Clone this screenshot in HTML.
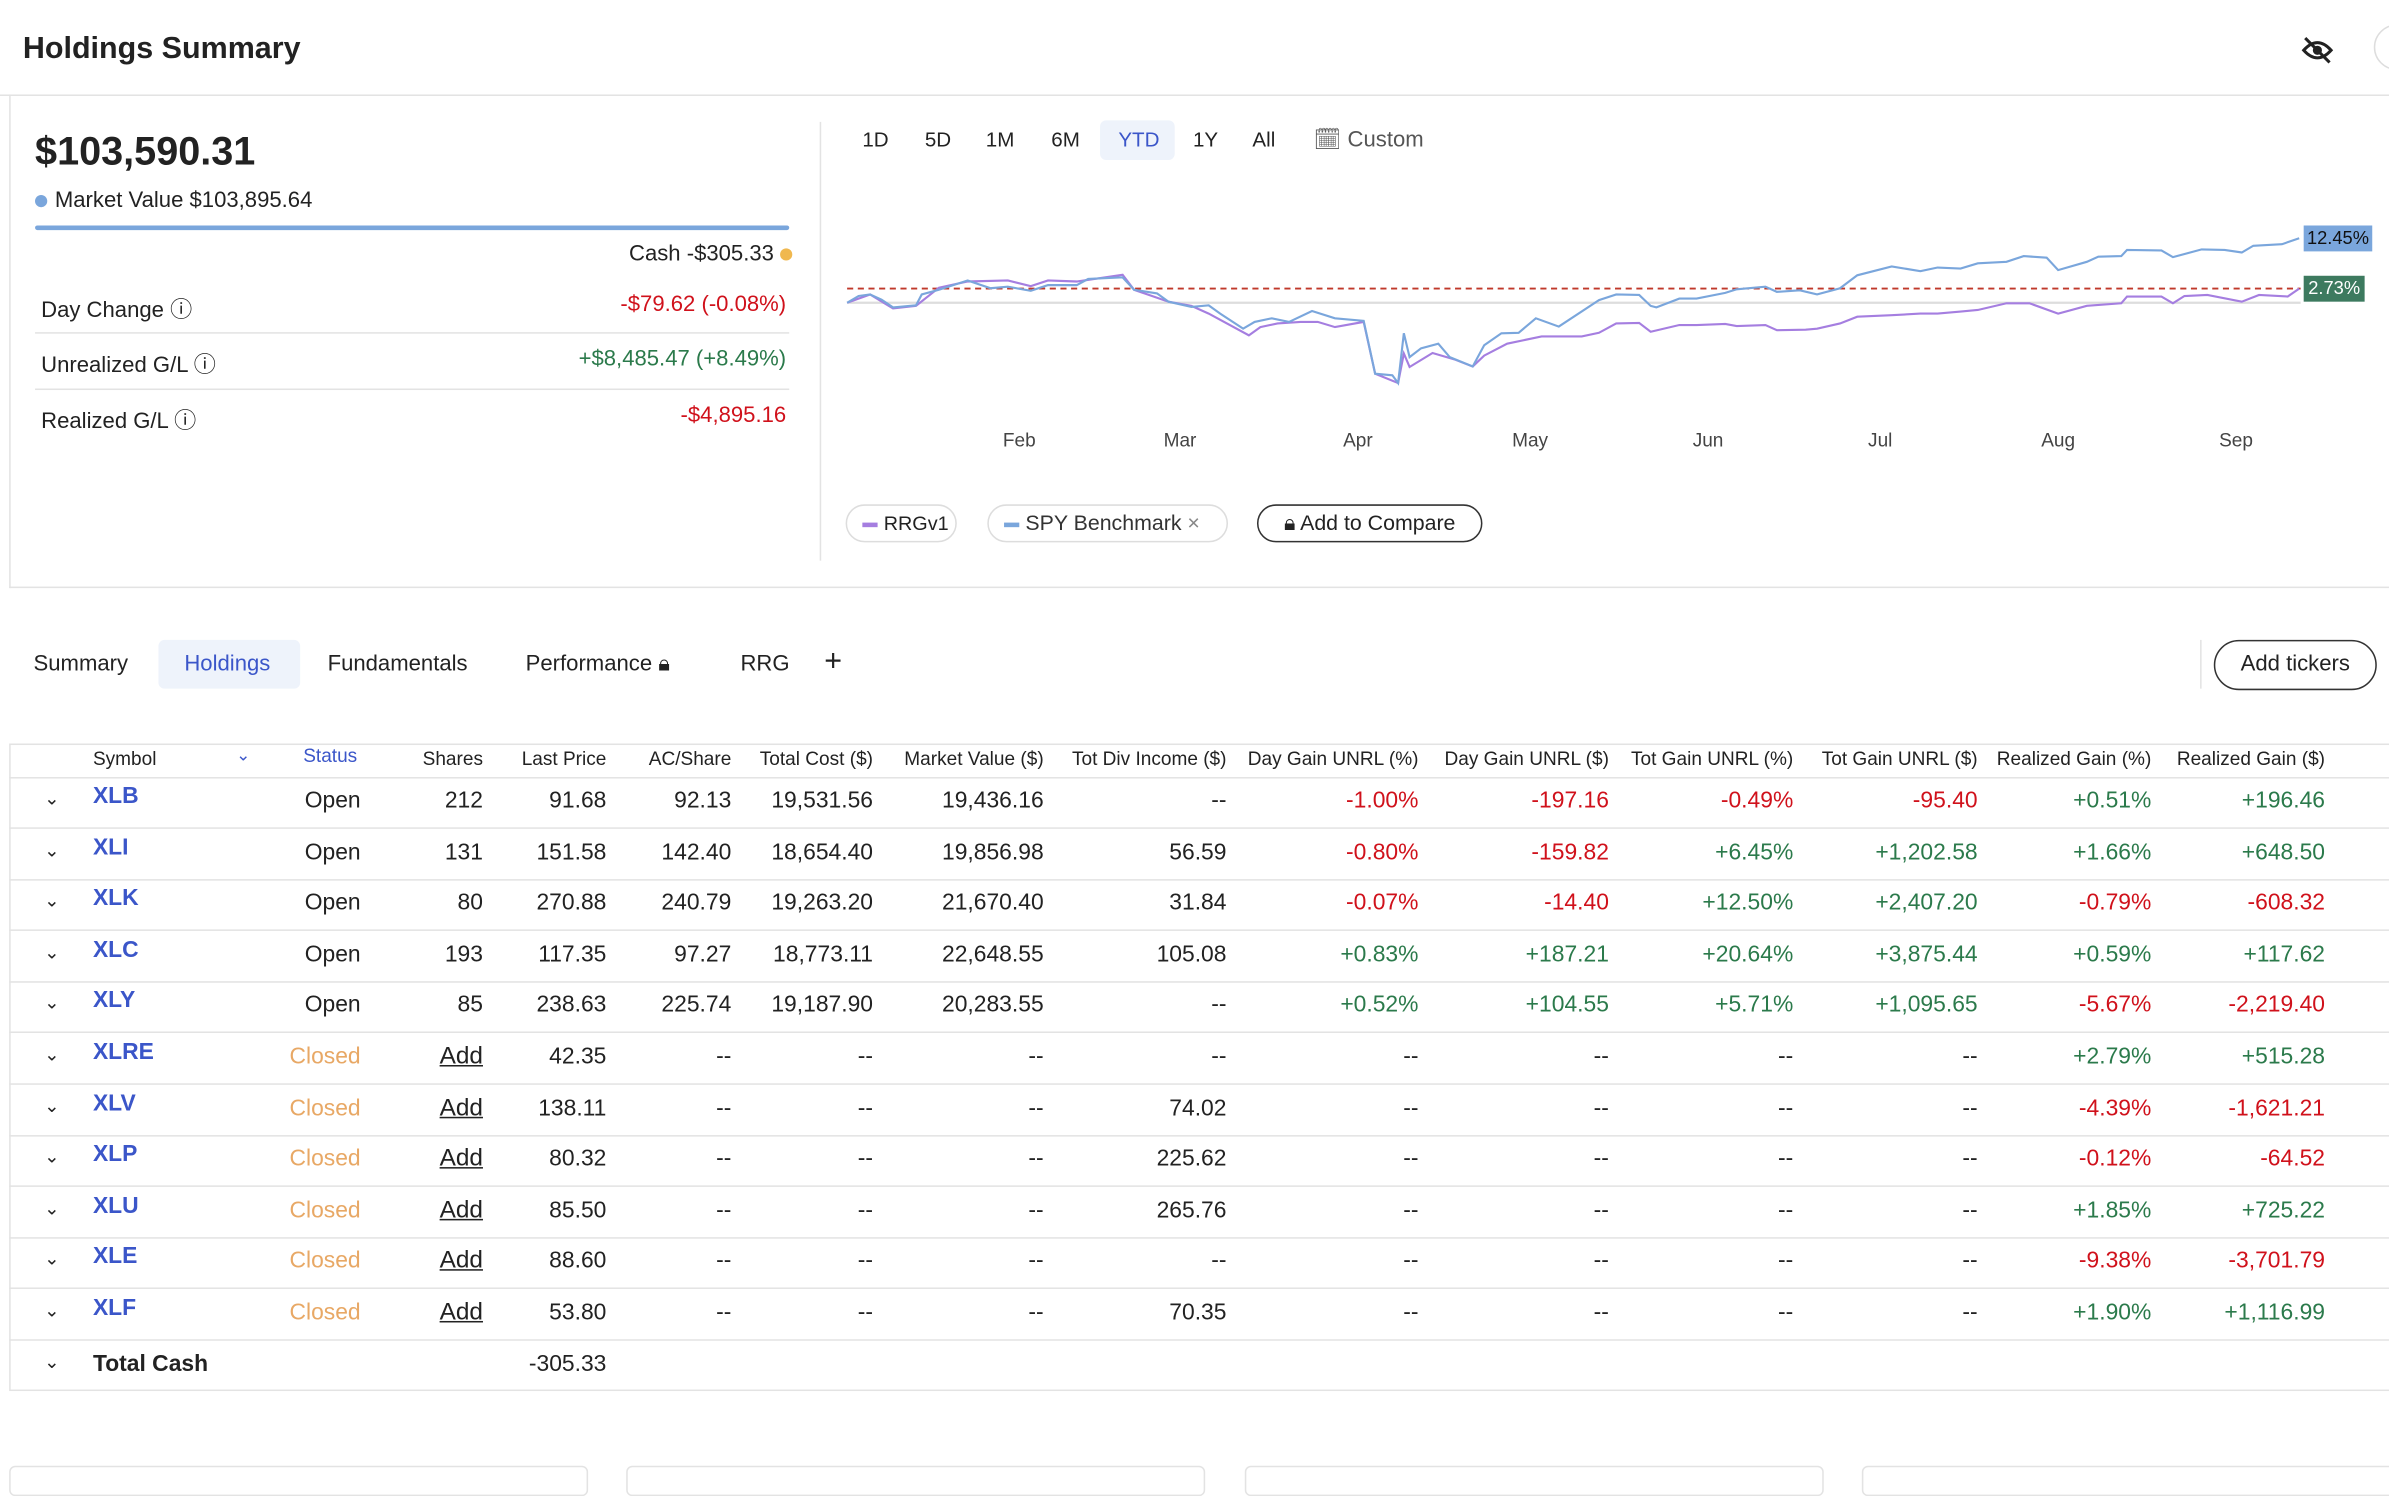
<!DOCTYPE html>
<html><head><meta charset="utf-8"><style>
*{box-sizing:border-box;margin:0;padding:0}
body{width:2389px;height:1480px;overflow:hidden;background:#fff;font-family:"Liberation Sans",Arial,sans-serif;color:#222}
#root{position:absolute;left:0;top:0;width:1568px;height:971px;transform:scale(1.5236);transform-origin:0 0}
.a{position:absolute;white-space:nowrap}
.r{text-align:right}
.red{color:#d0111b}.grn{color:#2b7a4b}
.hd{font-size:12.5px;color:#222;top:491px}
.cell{font-size:15px}
.sym{color:#3b56c9;font-weight:bold;font-size:15px}
.cls{color:#e8a865;font-size:15px}
.add{text-decoration:underline;font-size:16px}
.sep{position:absolute;left:6px;width:1562px;height:1px;background:#e3e3e3}
.btn{font-size:13.5px;top:84px}
</style></head><body><div id="root">

<div class="a" style="left:15px;top:21px;font-size:20px;font-weight:bold">Holdings Summary</div>
<svg class="a" style="left:1510px;top:23px" width="22" height="20" viewBox="0 0 22 20"><path d="M2 10 Q11 0 20 10 Q11 20 2 10Z" fill="none" stroke="#222" stroke-width="2"/><circle cx="11" cy="10" r="3" fill="#222"/><line x1="3" y1="2" x2="19" y2="18" stroke="#222" stroke-width="2"/></svg>
<div class="a" style="left:1558px;top:16px;width:30px;height:30px;border:1px solid #ddd;border-radius:50%"></div>
<div class="a" style="left:0;top:62px;width:1568px;height:1px;background:#e3e3e3"></div>
<div class="a" style="left:6px;top:62px;width:1600px;height:324px;border:1px solid #e3e3e3;border-top:none"></div>
<div class="a" style="left:538px;top:80px;width:1px;height:288px;background:#e3e3e3"></div>

<div class="a" style="left:23px;top:84px;font-size:26px;font-weight:bold">$103,590.31</div>
<div class="a" style="left:23px;top:124px;font-size:14.5px"><span style="display:inline-block;width:8px;height:8px;border-radius:50%;background:#7aa6dc;margin-right:5px"></span>Market Value <b style="font-weight:500">$103,895.64</b></div>
<div class="a" style="left:23px;top:148px;width:495px;height:3px;background:#7aa6dc;border-radius:2px"></div>
<div class="a r" style="left:300px;width:220px;top:159px;font-size:14.5px">Cash -$305.33 <span style="display:inline-block;width:8px;height:8px;border-radius:50%;background:#f0b84f"></span></div>
<div class="a" style="left:27px;top:192px;font-size:14.5px">Day Change ⓘ</div>
<div class="a r red" style="left:300px;width:216px;top:192px;font-size:14.5px">-$79.62 (-0.08%)</div>
<div class="a" style="left:23px;top:218px;width:495px;height:1px;background:#e3e3e3"></div>
<div class="a" style="left:27px;top:228px;font-size:14.5px">Unrealized G/L ⓘ</div>
<div class="a r grn" style="left:300px;width:216px;top:228px;font-size:14.5px">+$8,485.47 (+8.49%)</div>
<div class="a" style="left:23px;top:255px;width:495px;height:1px;background:#e3e3e3"></div>
<div class="a" style="left:27px;top:265px;font-size:14.5px">Realized G/L ⓘ</div>
<div class="a r red" style="left:300px;width:216px;top:265px;font-size:14.5px">-$4,895.16</div>

<div class="a" style="left:722px;top:79px;width:49px;height:26px;background:#eef3fb;border-radius:4px"></div>
<div class="a btn" style="left:566px">1D</div>
<div class="a btn" style="left:607px">5D</div>
<div class="a btn" style="left:647px">1M</div>
<div class="a btn" style="left:690px">6M</div>
<div class="a btn" style="left:734px;color:#3b56c9">YTD</div>
<div class="a btn" style="left:783px">1Y</div>
<div class="a btn" style="left:822px">All</div>
<div class="a btn" style="left:862px;font-size:14.5px;top:83px;color:#555">🗓 Custom</div>

<svg class="a" style="left:0;top:0" width="1568" height="320">
<line x1="556" x2="1510" y1="198.7" y2="198.7" stroke="#ddd" stroke-width="1.5"/>
<g id="lines"></g>
<g id="months" font-size="12.5" fill="#444" text-anchor="middle"></g>
</svg>
<div class="a" style="left:1512px;top:148px;width:45px;height:17px;background:#7aa6dc;font-size:12px;line-height:17px;text-align:center;color:#111">12.45%</div>
<div class="a" style="left:1512px;top:181px;width:40px;height:17px;background:#3d7a5f;font-size:12px;line-height:17px;text-align:center;color:#fff">2.73%</div>

<div class="a" style="left:555px;top:331px;width:73px;height:25px;border:1px solid #ddd;border-radius:13px;font-size:13px;line-height:23px;padding-left:10px"><span style="display:inline-block;width:10px;height:3px;background:#a57ee0;vertical-align:middle;margin-right:4px"></span>RRGv1</div>
<div class="a" style="left:648px;top:331px;width:158px;height:25px;border:1px solid #ddd;border-radius:13px;font-size:14px;line-height:23px;padding-left:10px;color:#333"><span style="display:inline-block;width:10px;height:3px;background:#7aa6dc;vertical-align:middle;margin-right:4px"></span>SPY Benchmark <span style="color:#888">×</span></div>
<div class="a" style="left:825px;top:331px;width:148px;height:25px;border:1.5px solid #333;border-radius:13px;font-size:14px;line-height:22px;text-align:center;font-weight:500">🔒︎ Add to Compare</div>

<div class="a" style="left:104px;top:420px;width:93px;height:32px;background:#eef3fb;border-radius:4px"></div>
<div class="a" style="left:22px;top:428px;font-size:14.5px">Summary</div>
<div class="a" style="left:121px;top:428px;font-size:14.5px;color:#3b56c9">Holdings</div>
<div class="a" style="left:215px;top:428px;font-size:14.5px">Fundamentals</div>
<div class="a" style="left:345px;top:428px;font-size:14.5px">Performance 🔒︎</div>
<div class="a" style="left:486px;top:428px;font-size:14.5px">RRG</div>
<div class="a" style="left:541px;top:423px;font-size:20px">+</div>
<div class="a" style="left:1444px;top:420px;width:1px;height:32px;background:#e3e3e3"></div>
<div class="a" style="left:1453px;top:420px;width:107px;height:33px;border:1px solid #333;border-radius:17px;font-size:14.5px;line-height:31px;text-align:center">Add tickers</div>

<div class="a" style="left:6px;top:488px;width:1600px;height:425px;border:1px solid #e3e3e3"></div>
<div id="tbl"></div>

<div class="a" style="left:6px;top:962px;width:380px;height:20px;border:1px solid #e3e3e3;border-radius:4px"></div>
<div class="a" style="left:411px;top:962px;width:380px;height:20px;border:1px solid #e3e3e3;border-radius:4px"></div>
<div class="a" style="left:817px;top:962px;width:380px;height:20px;border:1px solid #e3e3e3;border-radius:4px"></div>
<div class="a" style="left:1222px;top:962px;width:380px;height:20px;border:1px solid #e3e3e3;border-radius:4px"></div>
</div>
<script>
const spyDays=[0,2,4,6,8,12,13,16,21,25,28,32,35,40,42,48,50,54,56,60,63,65,69,71,74,77,81,85,90,92,95,96,97,98,100,103,105,109,111,114,117,120,124,131,134,138,140,141,145,148,153,155,160,162,166,169,173,176,182,187,190,194,197,202,205,209,211,216,218,222,223,229,231,236,240,243,245,250,253];
const spyVals=[0,1.3,1.6,0.6,-0.9,-0.5,1.6,2.5,4.3,2.8,3.1,2.3,3.4,3.4,4.6,4.9,2.5,1.8,0.2,-0.8,-0.5,-2.1,-5.0,-3.7,-3.0,-3.7,-1.6,-3.0,-3.5,-13.7,-14.0,-15.5,-5.9,-10.5,-8.8,-7.9,-10.5,-12.3,-8.2,-5.9,-5.8,-3.0,-4.6,0.5,1.6,1.5,-0.6,-0.9,0.8,0.8,1.9,2.6,3.1,2.1,2.4,1.6,2.8,5.3,7.0,6.1,6.8,6.6,7.6,7.9,9.0,8.7,6.3,7.9,8.9,9.0,10.2,10.1,8.8,10.3,10.2,9.7,11.0,11.3,12.45];
const rrgDays=[0,4,8,12,16,21,28,32,35,40,48,50,56,60,63,70,72,75,79,82,85,90,92,96,97,98,102,106,109,111,115,121,128,131,134,138,140,145,148,153,155,160,162,167,169,173,176,182,187,190,194,197,202,206,211,216,222,223,229,231,233,237,243,246,251,253];
const rrgVals=[0,1.6,-1.1,-0.6,2.9,4.1,4.3,3.2,4.3,4.1,5.4,2.5,0.2,-0.6,-2.1,-6.3,-4.7,-4.0,-3.7,-3.7,-4.7,-3.7,-13.7,-15.5,-9.8,-12.4,-9.7,-11.0,-12.3,-10.2,-7.9,-6.5,-6.5,-5.8,-4.0,-3.9,-5.6,-4.3,-4.3,-4.1,-4.5,-4.3,-5.3,-5.2,-5.0,-4.0,-2.7,-2.4,-2.1,-2.1,-1.7,-1.4,-0.1,-0.1,-2.1,-0.6,-0.1,1.2,1.2,-0.1,1.3,1.5,0.2,1.5,1.2,2.73];
const monthNames=["Feb","Mar","Apr","May","Jun","Jul","Aug","Sep"];
const monthDays=[30,58,89,119,150,180,211,242];
const refLine=2.73;
const X=d=>556+d*3.767, Y=v=>198.7-v*3.4;
const NS="http://www.w3.org/2000/svg";
const g=document.getElementById('lines');
function line(days,vals,color,name){const p=document.createElementNS(NS,'polyline');
p.setAttribute('points',days.map((d,i)=>X(d)+','+Y(vals[i])).join(' '));
p.setAttribute('fill','none');p.setAttribute('stroke',color);p.setAttribute('stroke-width','1.4');


g.appendChild(p);}
const rl=document.createElementNS(NS,'line');
rl.setAttribute('x1',556);rl.setAttribute('x2',1510);rl.setAttribute('y1',Y(refLine));rl.setAttribute('y2',Y(refLine));
rl.setAttribute('stroke','#c0392b');rl.setAttribute('stroke-dasharray','4 3');rl.setAttribute('stroke-width','1.2');


g.appendChild(rl);
line(rrgDays,rrgVals,'#a57ee0','rrgv1-line');
line(spyDays,spyVals,'#7aa6dc','spy-line');
const mg=document.getElementById('months');
monthNames.forEach((m,i)=>{const t=document.createElementNS(NS,'text');t.setAttribute('x',X(monthDays[i]));t.setAttribute('y',293);t.textContent=m;


mg.appendChild(t);});

// table
const rows=[
["XLB","Open","212","91.68","92.13","19,531.56","19,436.16","--","-1.00%","-197.16","-0.49%","-95.40","+0.51%","+196.46"],
["XLI","Open","131","151.58","142.40","18,654.40","19,856.98","56.59","-0.80%","-159.82","+6.45%","+1,202.58","+1.66%","+648.50"],
["XLK","Open","80","270.88","240.79","19,263.20","21,670.40","31.84","-0.07%","-14.40","+12.50%","+2,407.20","-0.79%","-608.32"],
["XLC","Open","193","117.35","97.27","18,773.11","22,648.55","105.08","+0.83%","+187.21","+20.64%","+3,875.44","+0.59%","+117.62"],
["XLY","Open","85","238.63","225.74","19,187.90","20,283.55","--","+0.52%","+104.55","+5.71%","+1,095.65","-5.67%","-2,219.40"],
["XLRE","Closed","Add","42.35","--","--","--","--","--","--","--","--","+2.79%","+515.28"],
["XLV","Closed","Add","138.11","--","--","--","74.02","--","--","--","--","-4.39%","-1,621.21"],
["XLP","Closed","Add","80.32","--","--","--","225.62","--","--","--","--","-0.12%","-64.52"],
["XLU","Closed","Add","85.50","--","--","--","265.76","--","--","--","--","+1.85%","+725.22"],
["XLE","Closed","Add","88.60","--","--","--","--","--","--","--","--","-9.38%","-3,701.79"],
["XLF","Closed","Add","53.80","--","--","--","70.35","--","--","--","--","+1.90%","+1,116.99"]];
const rights=[317,398,480,573,685,805,931,1056,1177,1298,1412,1526];
const heads=["Shares","Last Price","AC/Share","Total Cost ($)","Market Value ($)","Tot Div Income ($)","Day Gain UNRL (%)","Day Gain UNRL ($)","Tot Gain UNRL (%)","Tot Gain UNRL ($)","Realized Gain (%)","Realized Gain ($)"];
let h='<div class="a hd" style="left:61px">Symbol</div><div class="a" style="left:155px;top:489px;font-size:11px;color:#3b56c9">⌄</div><div class="a hd" style="left:199px;top:489px;color:#3b56c9">Status</div>';
heads.forEach((t,i)=>{h+=`<div class="a hd r" style="left:${rights[i]-150}px;width:150px">${t}</div>`;});
h+='<div class="sep" style="top:510px"></div>';
rows.forEach((r,k)=>{const y=517+k*33.6;
h+=`<div class="a" style="left:29px;top:${y}px;font-size:12px">⌄</div>`;
h+=`<div class="a sym" style="left:61px;top:${y-3}px">${r[0]}</div>`;
h+=`<div class="a ${r[1]=='Open'?'cell':'cls'}" style="left:${r[1]=='Open'?200:190}px;top:${y}px">${r[1]}</div>`;
for(let i=2;i<14;i++){let v=r[i],c='cell';if(i>=8&&v!='--')c+=v[0]=='-'?' red':' grn';if(v=='Add')c='add';
h+=`<div class="a r ${c}" style="left:${rights[i-2]-150}px;width:150px;top:${y}px">${v}</div>`;}
h+=`<div class="sep" style="top:${y+26}px"></div>`;});
const ty=517+11*33.6;
h+=`<div class="a" style="left:29px;top:${ty}px;font-size:12px">⌄</div><div class="a" style="left:61px;top:${ty}px;font-size:15px;font-weight:bold">Total Cash</div><div class="a r cell" style="left:248px;width:150px;top:${ty}px">-305.33</div>`;
document.getElementById('tbl').innerHTML=h;
</script>
</body></html>
